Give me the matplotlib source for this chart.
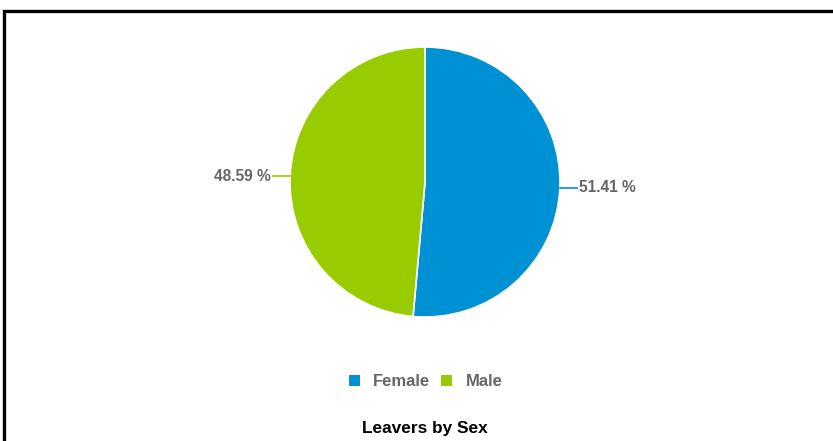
import numpy as np
import matplotlib
matplotlib.use("Agg")
import matplotlib.pyplot as plt
from matplotlib.patches import Rectangle
from matplotlib.lines import Line2D

categories = ["Female", "Male"]
values = [51.41, 48.59]
colors = ["#0091D5", "#99CC00"]
title = "Leavers by Sex"

W, H = 833, 441
fig = plt.figure(figsize=(W / 100, H / 100), dpi=100)
fig.patch.set_facecolor("white")

def fx(px):
    return px / W

def fy(py):
    return 1 - py / H

def rect_px(x0, y0, w, h, color, z=1):
    fig.patches.append(Rectangle((fx(x0), fy(y0 + h)), w / W, h / H, transform=fig.transFigure,
                                 facecolor=color, edgecolor="none", zorder=z))

# frame
rect_px(2, 9, W, H, "#d0d0d0", 0)
rect_px(3, 10, W, H, "black", 1)
rect_px(6, 13, W, H, "#d8d8d8", 2)
rect_px(7, 14, W, H, "white", 3)

cx, cy, r = 425, 182, 135
ax = fig.add_axes([fx(cx - r), fy(cy + r), 2 * r / W, 2 * r / H])
ax.set_zorder(5)
wedges, _ = ax.pie(values, colors=colors, startangle=90, counterclock=False,
                   radius=1, wedgeprops=dict(edgecolor="white", linewidth=1.2))
ax.set_xlim(-1, 1)
ax.set_ylim(-1, 1)
ax.set_aspect("equal")
ax.axis("off")

# labels with leader lines
for w, v, c in zip(wedges, values, colors):
    ang = np.deg2rad((w.theta1 + w.theta2) / 2)
    x0, y0 = np.cos(ang), np.sin(ang)
    side = 1 if x0 > 0 else -1
    x1 = x0 + side * 0.13
    ax.add_line(Line2D([x0, x1], [y0, y0], color=c, lw=1.2, clip_on=False))
    ax.text(x1 + side * 0.01, y0, f"{v:.2f} %", ha="left" if side > 0 else "right",
            va="center", fontsize=11.2, fontweight="bold", color="#666666",
            family="Liberation Sans", clip_on=False)

# legend
leg_y = fy(381)
items = [(349, 373), (441, 466)]
for (sx, tx), cat, c in zip(items, categories, colors):
    rect_px(sx, 375, 11, 11, c, 6)
    fig.text(fx(tx), leg_y, cat, ha="left", va="center", fontsize=12, fontweight="bold",
             color="#666666", family="Liberation Sans", zorder=6)

fig.text(fx(425), fy(428), title, ha="center", va="center", fontsize=12.4, fontweight="bold",
         color="black", family="Liberation Sans", zorder=6)

fig.savefig("out.png", dpi=100)
